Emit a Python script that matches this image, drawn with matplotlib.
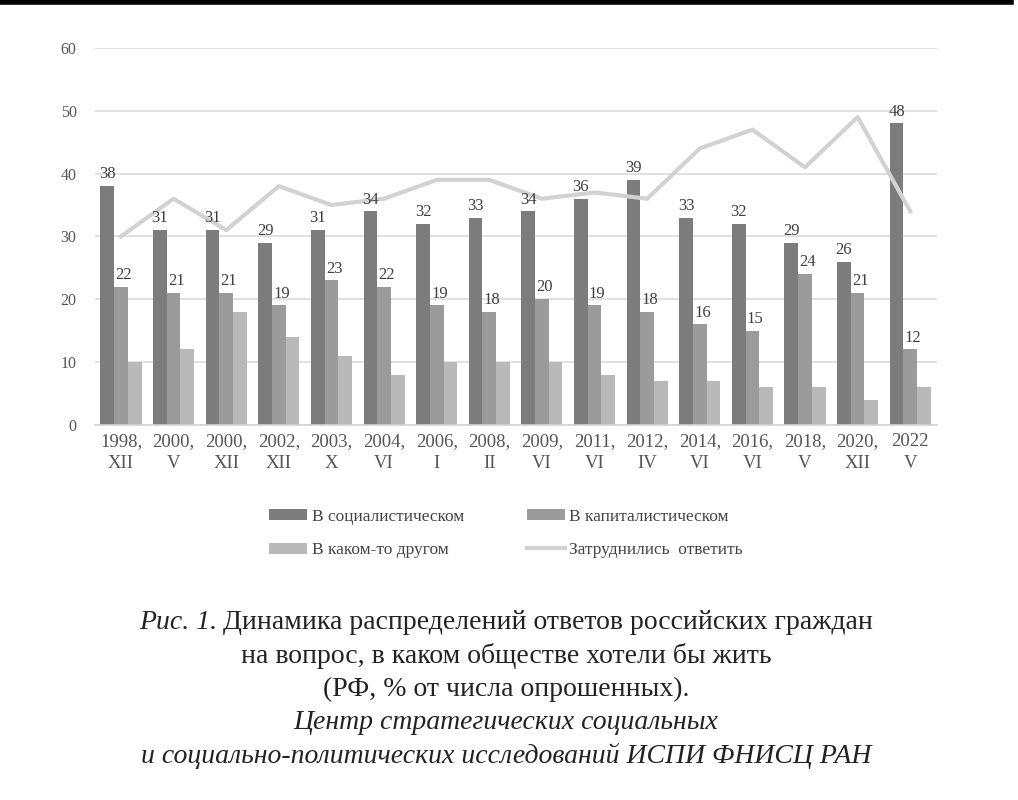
import numpy as np
import matplotlib.pyplot as plt

plt.rcParams['font.family'] = ['Liberation Serif', 'DejaVu Serif']

# Данные
periods = ['1998,\nXII', '2000,\nV', '2000,\nXII', '2002,\nXII', '2003,\nX', '2004,\nVI',
           '2006,\nI', '2008,\nII', '2009,\nVI', '2011,\nVI', '2012,\nIV', '2014,\nVI',
           '2016,\nVI', '2018,\nV', '2020,\nXII', '2022\nV']
socialist = [38, 31, 31, 29, 31, 34, 32, 33, 34, 36, 39, 33, 32, 29, 26, 48]
capitalist = [22, 21, 21, 19, 23, 22, 19, 18, 20, 19, 18, 16, 15, 24, 21, 12]
other = [10, 12, 18, 14, 11, 8, 10, 10, 10, 8, 7, 7, 6, 6, 4, 6]
hard_to_say = [30, 36, 31, 38, 35, 36, 39, 39, 36, 37, 36, 44, 47, 41, 49, 34]

names = ['В социалистическом', 'В капиталистическом', 'В каком-то другом', 'Затруднились  ответить']
colors = ['#7c7c7c', '#9b9b9b', '#b9b9b9', '#d2d2d2']

x = np.arange(len(periods))
w = 0.26

fig = plt.figure(figsize=(10.18, 8), dpi=100)
ax = fig.add_axes([0.093, 0.469, 0.827, 0.471])

b1 = ax.bar(x - w, socialist, w, color=colors[0], label=names[0], zorder=2)
b2 = ax.bar(x, capitalist, w, color=colors[1], label=names[1], zorder=2)
b3 = ax.bar(x + w, other, w, color=colors[2], label=names[2], zorder=2)
ln, = ax.plot(x, hard_to_say, color=colors[3], lw=3, label=names[3], zorder=3)

for xi, v in zip(x - w, socialist):
    ax.text(xi, v + 0.6, str(v), ha='center', va='bottom', fontsize=12, color='#404040', zorder=4)
for xi, v in zip(x, capitalist):
    ax.text(xi + 0.05, v + 0.6, str(v), ha='center', va='bottom', fontsize=12, color='#404040', zorder=4)

ax.set_xlim(-0.5, 15.5)
ax.set_ylim(0, 60)
ax.set_yticks(range(0, 61, 10))
ax.set_xticks(x)
ax.set_xticklabels(periods, fontsize=13.5, color='#555555', linespacing=1.35)
ax.tick_params(axis='y', labelsize=11.5, colors='#555555', length=0, pad=13)
ax.tick_params(axis='x', length=0, pad=6)
ax.grid(axis='y', color='#dcdcdc', lw=1.2, zorder=0)
for s in ['top', 'right', 'left']:
    ax.spines[s].set_visible(False)
ax.spines['bottom'].set_color('#d4d4d4')
ax.spines['bottom'].set_linewidth(1.2)

fig.legend([b1, b3, b2, ln], [names[0], names[2], names[1], names[3]], ncol=2,
           loc='center', bbox_to_anchor=(0.497, 0.333), frameon=False,
           fontsize=12.5, handlelength=2.2, handleheight=0.6, columnspacing=3.6,
           labelspacing=1.0, handletextpad=0.25, labelcolor='#444444')

# Подпись
cap_size = 20
cap_y = [0.222, 0.18, 0.138, 0.097, 0.055]
t_a = fig.text(0, cap_y[0], 'Рис. 1.', fontsize=cap_size, style='italic', ha='left', va='center', color='#222222')
t_b = fig.text(0, cap_y[0], 'Динамика распределений ответов российских граждан',
               fontsize=cap_size, ha='left', va='center', color='#222222')
r = fig.canvas.get_renderer()
wa = t_a.get_window_extent(r).width / fig.bbox.width
wb = t_b.get_window_extent(r).width / fig.bbox.width
gap = 0.005
x0 = 0.497 - (wa + gap + wb) / 2
t_a.set_x(x0)
t_b.set_x(x0 + wa + gap)
fig.text(0.497, cap_y[1], 'на вопрос, в каком обществе хотели бы жить',
         fontsize=cap_size, ha='center', va='center', color='#222222')
fig.text(0.497, cap_y[2], '(РФ, % от числа опрошенных).',
         fontsize=cap_size, ha='center', va='center', color='#222222')
fig.text(0.497, cap_y[3], 'Центр стратегических социальных',
         fontsize=cap_size, style='italic', ha='center', va='center', color='#222222')
fig.text(0.497, cap_y[4], 'и социально-политических исследований ИСПИ ФНИСЦ РАН',
         fontsize=cap_size, style='italic', ha='center', va='center', color='#222222')

# Черная полоса сверху
fig.add_artist(plt.Line2D([0, 0.993], [0.998, 0.998], color='black', lw=4, transform=fig.transFigure))

fig.savefig('out.png', dpi=100)
